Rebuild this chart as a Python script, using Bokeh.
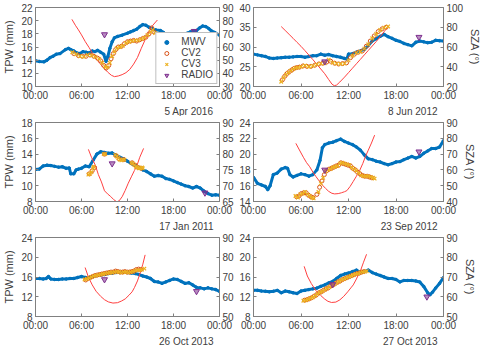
from bokeh.plotting import figure
from bokeh.layouts import gridplot
from bokeh.models import Range1d, LinearAxis, FixedTicker, Legend, LegendItem, Title
from bokeh.embed import file_html
from bokeh.resources import INLINE

# ---------------- data (hours of day, TPW mm, SZA deg) ----------------
DATES = ["5 Apr 2016", "8 Jun 2012", "17 Jan 2011", "23 Sep 2012", "26 Oct 2013", "27 Oct 2013"]
X_TICKS = [0, 6, 12, 18, 24]
X_LABELS = ["00:00", "06:00", "12:00", "18:00", "00:00"]

P1_MWV = [(0,13.9),(0.5,13.8),(1.1,13.75),(1.5,14.0),(1.9,14.4),(2.3,14.6),(2.7,14.9),(3.2,15.0),(3.9,15.6),(4.3,15.8),
          (4.6,15.6),(5.0,15.4),(5.4,15.1),(5.8,15.0),(6.2,15.3),(6.6,15.2),(7.0,15.1),(7.4,15.4),(7.75,15.3),(8.1,15.5),
          (8.5,15.2),(8.9,14.9),(9.2,13.8),(9.45,14.6),(9.7,15.8),(10.0,16.8),(10.3,17.4),(10.7,17.6),(11.3,17.8),(12.0,18.1),
          (12.4,18.3),(12.8,18.5),(13.2,18.7),(13.6,19.1),(14.0,19.4),(14.4,19.3),(14.8,19.0),(15.2,18.8),(15.7,18.6),(16.3,18.5),
          (16.7,18.2),(17.1,17.8),(17.5,17.6),(17.9,17.3),(18.3,17.6),(18.7,17.6),(19.0,17.8),(19.4,17.9),(19.8,18.1),(20.2,18.3),
          (20.6,18.4),(21.0,18.5),(21.4,18.9),(21.8,19.2),(22.2,19.1),(22.6,18.8),(22.9,18.5),(23.4,18.2),(24.0,17.8)]
P1_CV3 = [(4.8,15.2),(5.3,14.9),(5.8,14.6),(6.3,14.5),(6.8,14.8),(7.3,14.7),(7.8,14.5),(8.3,14.2),(8.7,13.6),(9.1,13.0),
          (9.4,12.9),(9.7,13.6),(10.0,14.6),(10.3,15.3),(10.6,15.8),(11.0,16.0),(11.4,16.2),(11.8,16.6),(12.2,16.8),(12.6,16.9),
          (13.0,17.0),(13.4,17.0),(13.8,17.2),(14.2,17.4),(14.6,17.8),(15.0,18.3),(15.3,18.6),(15.6,18.1)]
P1_CV2 = [(5.0,15.0),(5.6,14.7),(6.1,14.6),(6.6,14.6),(7.1,14.8),(7.6,14.6),(8.1,14.3),(8.5,13.9),(8.9,13.2),(9.2,12.8),
          (9.55,13.2),(9.85,14.2),(10.15,15.0),(10.45,15.6),(10.8,16.0),(11.2,16.1),(11.6,16.5),(12.0,16.8),(12.4,16.9),(12.8,17.0),
          (13.2,16.9),(13.6,17.1),(14.0,17.3),(14.4,17.5),(14.8,18.0),(15.15,18.9),(15.45,18.3)]
P1_RADIO = [(9.0,17.9),(20.7,18.4)]
P1_SZA = [(4.75,81),(5.2,76.5),(5.6,73),(6.0,69.2),(6.5,64),(7.0,59.5),(7.4,55.6),(7.9,51),(8.4,47.5),(8.9,44.3),
          (9.4,41),(9.9,38.5),(10.3,37.5),(10.8,38),(11.3,39),(11.8,40.5),(12.3,43),(12.8,47),(13.3,52),(13.8,59),
          (14.3,65.5),(14.8,71.5),(15.3,76.5),(15.9,80.5)]

P2_MWV = [(0,28.2),(0.5,28.0),(1,27.8),(1.5,27.6),(2,27.2),(2.5,27.1),(3,27.2),(3.5,27.3),(4,27.4),(4.5,27.4),
          (5,27.5),(5.5,27.6),(6,27.6),(6.5,27.4),(7,27.6),(7.5,27.8),(8,27.8),(8.5,28.2),(9,27.9),(9.5,28.1),
          (10,27.8),(10.5,27.6),(11,27.4),(11.5,27.1),(11.8,27.0),(12.0,28.2),(12.5,28.3),(13,28.7),(13.5,29.0),(14,29.4),
          (14.5,30.4),(15,31.5),(15.5,32.1),(16,32.7),(16.5,33.2),(17,32.6),(17.5,32.2),(18,31.7),(18.5,31.4),(19,30.9),
          (19.5,30.6),(20,30.3),(20.5,31.2),(21,31.5),(21.5,31.3),(22,31.1),(22.5,31.2),(23,31.7),(23.5,31.6),(24,31.5)]
P2_CV3 = [(3.5,21.2),(3.8,22.2),(4.1,23.0),(4.4,23.5),(4.7,24.0),(5.0,24.4),(5.3,24.7),(5.6,24.8),(6.0,25.0),(6.5,25.3),
          (7.0,25.0),(7.5,25.2),(8.0,25.6),(8.5,25.8),(9.0,25.9),(9.5,26.8),(10.0,26.0),(10.5,25.8),(11.0,25.7),(11.5,25.8),
          (12.0,26.6),(12.5,27.8),(13.0,28.5),(13.5,28.8),(14.0,29.6),(14.5,30.7),(15.0,32.2),(15.5,33.3),(16.0,34.3),(16.5,34.9),
          (17.0,35.2)]
P2_CV2 = [(3.65,21.7),(3.95,22.6),(4.25,23.3),(4.55,23.8),(4.85,24.2),(5.15,24.6),(5.45,24.8),(5.8,24.9),(6.25,25.2),(6.75,25.1),
          (7.25,25.1),(7.75,25.4),(8.25,25.7),(8.75,25.9),(9.25,26.2),(9.75,26.4),(10.25,25.9),(10.75,25.7),(11.25,25.8),(11.75,26.0),
          (12.25,27.3),(12.75,28.2),(13.25,28.7),(13.75,29.0),(14.25,30.2),(14.75,31.5),(15.25,32.8),(15.75,33.9),(16.25,34.6),(16.75,35.0)]
P2_RADIO = [(9.0,26.3),(20.9,32.5)]
P2_SZA = [(3.5,80.7),(4,76.8),(4.5,72.8),(5,68.8),(5.5,64.7),(6,60.7),(6.5,56.3),(7,51.8),(7.5,47.2),(8,42.5),
          (8.5,37.7),(9,32.9),(9.5,27),(9.9,22.5),(10.2,20.8),(10.5,21.5),(10.9,24.5),(11.5,29.5),(12,34),(12.5,38.5),
          (13,43),(13.5,47.5),(14,52),(14.5,56.5),(15,61),(15.5,65.5),(16,70.5),(16.5,75.5),(16.9,79.8)]

P3_MWV = [(0,12.05),(0.5,12.1),(1,12.5),(1.5,12.6),(2,12.55),(2.5,12.45),(3,12.35),(3.5,12.4),(4,12.2),(4.4,12.25),
          (4.6,11.5),(5,11.5),(5.3,12.0),(5.6,12.1),(6,12.2),(6.5,12.5),(7,12.4),(7.5,13.2),(8,14.0),(8.5,14.3),
          (9,14.2),(9.5,14.1),(10,14.15),(10.5,13.85),(11,13.6),(11.5,13.4),(12,13.1),(12.5,12.8),(13,12.6),(13.5,12.3),
          (14,12.0),(14.5,11.8),(15,11.5),(15.5,11.2),(16,11.3),(16.5,11.2),(17,10.9),(17.5,10.8),(18,10.6),(18.5,10.4),
          (19,10.2),(19.5,10.0),(20,9.9),(20.5,9.7),(21,9.9),(21.5,9.7),(22,9.3),(22.5,9.0),(23,8.8),(23.5,8.85),(24,8.8)]
P3_CV3 = [(6.9,11.4),(7.1,11.5),(7.3,11.7),(7.5,12.2),(7.6,12.4),(8.9,14.0),(9.1,14.0),(10.4,13.9),(10.6,13.7),(10.8,13.5),
          (11.0,13.3),(11.2,13.2),(11.4,13.3),(11.6,13.3),(12.5,12.9),(12.7,12.8),(12.9,12.6),(13.1,12.4),(13.3,12.3),(13.5,12.2),
          (13.7,12.2),(13.9,12.3),(14.0,12.2)]
P3_CV2 = [(7.0,11.5),(7.4,11.9),(7.7,12.3),(9.0,14.0),(10.5,13.8),(10.9,13.4),(11.5,13.3),(12.6,12.9),(13.0,12.6),(13.4,12.3),(13.8,12.2)]
P3_RADIO = [(10.0,12.8),(22.1,9.1)]
P3_SZA = [(6.9,81.5),(7.3,79),(7.8,76.5),(8.2,73.5),(8.6,71.2),(9.0,68.4),(9.4,67.4),(9.8,66.6),(10.2,65.6),(10.6,64.9),
          (10.9,65.2),(11.3,66.5),(11.7,68.5),(12.1,70.8),(12.5,72.8),(12.9,74.8),(13.25,76.5),(13.6,79),(14.1,81.8)]

P4_MWV = [(0,17.05),(0.5,16.3),(1,16.1),(1.5,15.9),(1.8,15.5),(2.1,16.0),(2.5,17.4),(3,17.6),(3.5,18.1),(4,18.3),
          (4.3,18.2),(4.6,17.4),(5,17.1),(5.5,17.3),(6,17.5),(6.5,17.4),(7,17.2),(7.5,17.4),(8,18.0),(8.4,19.2),
          (8.7,20.8),(9,21.2),(9.5,21.4),(10,21.5),(10.5,21.7),(11,21.9),(11.5,21.6),(12,21.4),(12.5,21.2),(13,20.9),
          (13.5,20.5),(14,19.9),(14.5,19.4),(15,19.3),(15.5,19.1),(16,19.0),(16.5,18.8),(17,18.65),(17.5,18.8),(18,19.0),
          (18.5,19.05),(19,19.3),(19.5,19.5),(20,19.7),(20.5,19.5),(21,19.7),(21.5,20.1),(22,20.4),(22.5,20.7),(23,20.7),
          (23.5,20.9),(24,21.7)]
P4_CV3 = [(5.3,14.7),(5.6,14.5),(5.9,14.9),(6.2,15.0),(6.5,15.2),(6.8,14.9),(7.1,14.7),(7.4,14.5),(7.6,14.4),(8.2,15.2),
          (8.5,16.3),(8.8,17.0),(9.1,17.8),(9.4,18.0),(9.7,18.1),(10.0,18.3),(10.3,18.4),(10.6,18.5),(10.9,18.8),(11.2,18.9),
          (11.5,18.8),(11.8,18.7),(12.1,18.6),(12.4,18.3),(12.7,18.1),(13.0,17.9),(13.3,17.6),(13.6,17.3),(13.9,17.2),(14.2,17.2),
          (14.5,17.2),(14.8,17.1),(15.1,17.0),(15.3,16.9)]
P4_CV2 = [(5.45,14.6),(5.75,14.7),(6.05,15.0),(6.35,15.1),(6.65,15.1),(6.95,14.8),(7.25,14.6),(7.5,14.5),(8.0,14.9),(8.35,15.8),
          (8.65,16.6),(8.95,17.4),(9.25,17.9),(9.55,18.1),(9.85,18.2),(10.15,18.35),(10.45,18.5),(10.75,18.6),(11.05,18.9),(11.35,18.8),
          (11.65,18.7),(11.95,18.6),(12.25,18.5),(12.55,18.2),(12.85,18.0),(13.15,17.7),(13.45,17.5),(13.75,17.3),(14.05,17.2),(14.35,17.2),
          (14.65,17.1),(14.95,17.0)]
P4_RADIO = [(9.0,18.0),(20.9,20.3)]
P4_SZA = [(5.35,76.8),(5.8,72.6),(6.3,68),(6.7,64.6),(7.1,62),(7.5,58.6),(7.9,55.7),(8.3,53),(8.7,50.4),(9.1,48.3),
          (9.5,46.4),(9.9,45.2),(10.25,44.8),(10.7,45.0),(11.1,45.5),(11.5,46.2),(11.8,46.9),(12.2,49.5),(12.6,52.7),(13.0,56),
          (13.4,59.5),(13.8,64),(14.15,68.6),(14.5,72.5),(14.9,77),(15.3,82)]

P5_MWV = [(0,15.7),(0.5,15.7),(1,15.6),(1.4,15.7),(1.7,16.1),(2,15.6),(2.5,15.5),(3,15.5),(3.5,15.6),(4,15.6),
          (4.5,15.7),(5,15.7),(5.5,15.9),(6,16.1),(6.5,15.9),(7,15.9),(7.5,16.1),(8,16.3),(8.5,16.4),(9,16.5),
          (9.5,16.7),(10,16.8),(10.5,16.9),(11,16.9),(11.5,17.0),(12,16.9),(12.5,16.8),(13,16.7),(13.5,16.5),(14,16.2),
          (14.5,16.0),(15,15.7),(15.5,15.1),(16,15.0),(16.5,14.7),(17,15.0),(17.5,15.3),(18,15.6),(18.5,15.5),(19,15.1),
          (19.5,14.7),(20,14.85),(20.5,14.4),(21,13.9),(21.5,13.8),(22,13.6),(22.5,13.8),(23,13.6),(23.5,13.45),(24,13.1)]
P5_CV3 = [(6.4,15.5),(6.7,15.6),(7.0,15.8),(7.3,16.0),(7.6,16.2),(7.9,16.3),(8.2,16.4),(8.5,16.5),(8.8,16.6),(9.1,16.7),
          (9.4,16.8),(9.7,16.9),(10.0,16.9),(10.3,17.0),(10.6,17.1),(10.9,17.0),(11.2,16.9),(11.5,17.0),(11.8,17.0),(12.1,16.9),
          (12.4,17.0),(12.7,17.1),(13.0,17.3),(13.3,17.4),(13.6,17.4),(13.9,17.5),(14.2,17.7)]
P5_CV2 = [(6.55,15.4),(6.85,15.7),(7.15,15.9),(7.45,16.1),(7.75,16.3),(8.05,16.4),(8.35,16.5),(8.65,16.6),(8.95,16.7),(9.25,16.8),
          (9.55,16.9),(9.85,17.0),(10.15,17.0),(10.45,17.2),(10.75,17.1),(11.05,17.0),(11.35,17.0),(11.65,17.1),(11.95,17.0),(12.25,17.0),
          (12.55,17.1),(12.85,17.2),(13.15,17.5),(13.45,17.6),(13.75,17.5)]
P5_RADIO = [(9.0,15.5),(21.0,13.1)]
P5_SZA = [(6.47,74.8),(6.9,70),(7.4,66),(7.9,62.8),(8.5,60.2),(9.0,58.5),(9.5,57.4),(10.1,56.8),(10.7,57),(11.2,57.8),
          (11.7,58.9),(12.2,60.8),(12.6,62.5),(12.9,64.6),(13.3,68),(13.65,72),(14.0,76.5),(14.3,81.2)]

P6_MWV = [(0,13.3),(0.5,13.3),(1,13.15),(1.5,13.1),(2,13.0),(2.5,13.1),(3,13.3),(3.5,12.8),(4,13.15),(4.5,13.0),
          (5,12.8),(5.5,12.65),(6,13.15),(6.5,13.3),(7,13.45),(7.5,13.6),(8,13.75),(8.5,14.1),(9,14.4),(9.5,14.8),
          (10,15.1),(10.5,15.7),(11,16.3),(11.5,16.6),(12,16.8),(12.5,17.1),(13,17.4),(13.5,16.9),(14,17.1),(14.5,17.4),
          (15,16.9),(15.5,16.6),(16,16.3),(16.5,16.0),(17,15.7),(17.5,15.7),(18,15.5),(18.5,15.0),(19,15.3),(19.5,15.3),
          (20,15.3),(20.5,15.2),(21,15.0),(21.5,14.1),(22,12.8),(22.3,12.4),(22.6,12.9),(23,13.75),(23.5,14.7),(24,15.9)]
P6_CV3 = [(6.3,11.2),(6.6,11.3),(6.9,11.5),(7.2,11.7),(7.5,11.9),(7.8,12.2),(8.1,12.6),(8.4,12.9),(8.7,13.1),(9.0,13.4),
          (9.3,13.7),(9.6,14.0),(9.9,14.3),(10.2,14.5),(10.5,14.8),(10.8,15.1),(11.1,15.4),(11.4,15.6),(11.7,15.8),(12.0,16.0),
          (12.3,16.2),(12.6,16.4),(12.9,16.6),(13.2,16.7),(13.5,16.9),(13.8,17.0),(14.1,17.1),(14.3,17.2)]
P6_CV2 = [(6.45,11.3),(6.75,11.4),(7.05,11.6),(7.35,11.8),(7.65,12.1),(7.95,12.4),(8.25,12.8),(8.55,13.0),(8.85,13.3),(9.15,13.6),
          (9.45,13.8),(9.75,14.2),(10.05,14.4),(10.35,14.7),(10.65,15.0),(10.95,15.2),(11.25,15.5),(11.55,15.7),(11.85,15.9),(12.15,16.1),
          (12.45,16.3),(12.75,16.5),(13.05,16.7),(13.35,16.8),(13.65,17.0),(13.95,17.1)]
P6_RADIO = [(10.0,14.5),(21.9,12.0)]
P6_SZA = [(6.4,75.4),(6.8,70.5),(7.3,66.7),(7.9,63),(8.5,60.6),(9.0,58.8),(9.4,57.7),(9.85,57.1),(10.4,57.3),(10.9,58.4),
          (11.4,60.2),(11.9,62.5),(12.3,64.5),(12.6,66),(13.0,69),(13.55,73.6),(13.9,77.5),(14.28,81.5)]

TPW_RANGES = [(10, 22), (20, 40), (8, 18), (14, 24), (8, 24), (8, 24)]
TPW_TICKS = [[10, 12, 14, 16, 18, 20, 22], [20, 25, 30, 35, 40], [8, 10, 12, 14, 16, 18],
             [14, 16, 18, 20, 22, 24], [8, 12, 16, 20, 24], [8, 12, 16, 20, 24]]
SZA_RANGES = [(30, 90), (20, 100), (65, 90), (40, 90), (50, 90), (50, 90)]
SZA_TICKS = [[30, 40, 50, 60, 70, 80, 90], [20, 40, 60, 80, 100], [65, 70, 75, 80, 85, 90],
             [40, 50, 60, 70, 80, 90], [50, 60, 70, 80, 90], [50, 60, 70, 80, 90]]

# ---------------- styling ----------------
FONT = "Liberation Sans"
AX = "#808080"
TXT = "#404040"
C_MWV, C_CV2, C_CV3, C_RAD, C_SZA = "#0072BD", "#D95319", "#EDB120", "#7E2F8E", "#FF4040"


def unzip(pairs):
    return [a for a, _ in pairs], [b for _, b in pairs]


def style_axis(ax, label=""):
    ax.axis_label = label
    ax.axis_line_color = AX
    ax.major_tick_line_color = AX
    ax.major_tick_in = 3
    ax.major_tick_out = 0
    ax.minor_tick_line_color = None
    ax.major_label_text_font = FONT
    ax.major_label_text_font_size = "10px"
    ax.major_label_text_color = TXT
    ax.major_label_standoff = 3
    ax.axis_label_text_font = FONT
    ax.axis_label_text_font_size = "11px"
    ax.axis_label_text_font_style = "normal"
    ax.axis_label_text_color = TXT
    ax.axis_label_standoff = 3


def make_panel(i, mwv, cv2, cv3, radio, sza, width, height, col, top, legend=False):
    if col == 0:
        bl, br = 30, 16
    else:
        bl, br = 16, 36
    p = figure(width=width, height=height, x_range=Range1d(0, 24),
               y_range=Range1d(*TPW_RANGES[i]), output_backend="svg",
               toolbar_location=None, min_border_left=bl, min_border_right=br,
               min_border_top=top, min_border_bottom=30)
    p.extra_y_ranges = {"sza": Range1d(*SZA_RANGES[i])}
    p.xgrid.visible = False
    p.ygrid.visible = False
    p.outline_line_color = AX
    p.background_fill_color = "white"
    p.border_fill_color = "white"

    style_axis(p.xaxis[0])
    p.xaxis[0].ticker = FixedTicker(ticks=X_TICKS)
    p.xaxis[0].major_label_overrides = {t: l for t, l in zip(X_TICKS, X_LABELS)}
    style_axis(p.yaxis[0], "TPW (mm)" if col == 0 else "")
    p.yaxis[0].ticker = FixedTicker(ticks=TPW_TICKS[i])

    rax = LinearAxis(y_range_name="sza")
    style_axis(rax, "SZA (°)" if col == 1 else "")
    rax.ticker = FixedTicker(ticks=SZA_TICKS[i])
    p.add_layout(rax, "right")

    p.add_layout(Title(text=DATES[i], align="right", text_font=FONT, text_font_size="10px",
                       text_font_style="normal", text_color=TXT, standoff=0, offset=6), "below")

    mx, my = unzip(mwv)
    p.line(mx, my, line_color=C_MWV, line_width=3)
    r_mwv = p.scatter(mx, my, marker="circle", size=2.5, fill_color=C_MWV, line_color=C_MWV)
    sx, sy = unzip(sza)
    p.line(sx, sy, line_color=C_SZA, line_width=1, y_range_name="sza")
    c2x, c2y = unzip(cv2)
    r_cv2 = p.scatter(c2x, c2y, marker="circle", size=4, fill_color=None, line_color=C_CV2, line_width=1)
    c3x, c3y = unzip(cv3)
    r_cv3 = p.scatter(c3x, c3y, marker="x", size=5, line_color=C_CV3, line_width=1.2)
    rx, ry = unzip(radio)
    r_rad = p.scatter(rx, ry, marker="inverted_triangle", size=6, fill_color=C_RAD, fill_alpha=0.55,
                      line_color=C_RAD, line_width=1)

    if legend:
        leg = Legend(items=[LegendItem(label="MWV", renderers=[r_mwv]),
                            LegendItem(label="CV2", renderers=[r_cv2]),
                            LegendItem(label="CV3", renderers=[r_cv3]),
                            LegendItem(label="RADIO", renderers=[r_rad])],
                     location="bottom_right", label_text_font=FONT, label_text_font_size="10px",
                     label_text_color=TXT, label_height=10, glyph_height=10, glyph_width=14,
                     spacing=0, padding=3, margin=2, label_standoff=8,
                     border_line_color=AX, background_fill_alpha=1)
        p.add_layout(leg)
    return p


W0, W1 = 236, 248
p1 = make_panel(0, P1_MWV, P1_CV2, P1_CV3, P1_RADIO, P1_SZA, W0, 116, 0, 7, legend=True)
p2 = make_panel(1, P2_MWV, P2_CV2, P2_CV3, P2_RADIO, P2_SZA, W1, 116, 1, 7)
p3 = make_panel(2, P3_MWV, P3_CV2, P3_CV3, P3_RADIO, P3_SZA, W0, 115, 0, 6)
p4 = make_panel(3, P4_MWV, P4_CV2, P4_CV3, P4_RADIO, P4_SZA, W1, 115, 1, 6)
p5 = make_panel(4, P5_MWV, P5_CV2, P5_CV3, P5_RADIO, P5_SZA, W0, 115, 0, 6)
p6 = make_panel(5, P6_MWV, P6_CV2, P6_CV3, P6_RADIO, P6_SZA, W1, 115, 1, 6)

grid = gridplot([[p1, p2], [p3, p4], [p5, p6]], toolbar_location=None)

open("out.html", "w").write(file_html(grid, INLINE))
